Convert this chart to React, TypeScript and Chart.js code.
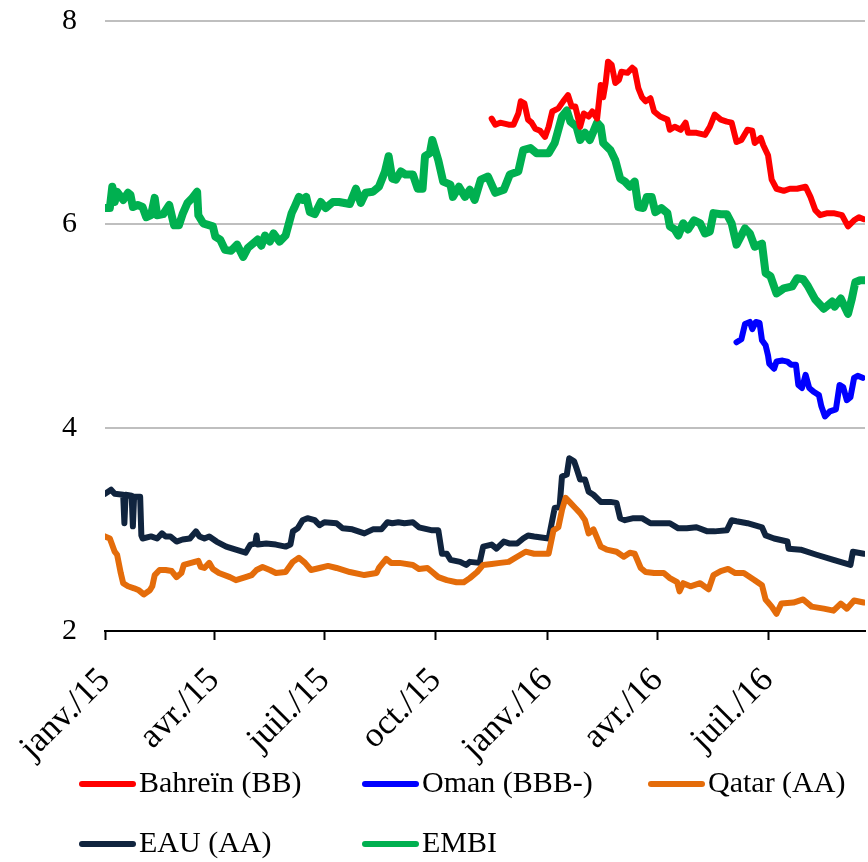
import React, { useEffect, useRef } from "react";
import { Chart, registerables } from "chart.js";

Chart.register(...registerables);

// Days counted from 1 Jan 2015
const tickDays = [0, 90, 181, 273, 365, 456, 547];
const tickLabels = ["janv./15", "avr./15", "juil./15", "oct./15", "janv./16", "avr./16", "juil./16"];
const yTicks = [2, 4, 6, 8];
const xMaxDay = 627;

const seriesNames = ["Bahreïn (BB)", "Oman (BBB-)", "Qatar (AA)", "EAU (AA)", "EMBI"];
const seriesColors = ["#ff0000", "#0000ff", "#e46c0a", "#10243e", "#00b050"];
const seriesWidths = [6, 6, 6, 6, 8];

const bahrein: [number, number][] = [
  [319, 7.04], [322, 6.98], [326, 7.0], [333, 6.98], [337, 6.98], [341, 7.09], [343, 7.21], [346, 7.19],
  [349, 7.03], [352, 7.0], [355, 6.94], [359, 6.92], [363, 6.86], [366, 6.96], [369, 7.11], [374, 7.14],
  [378, 7.21], [382, 7.27], [385, 7.16], [388, 7.16], [392, 6.96], [395, 7.09], [399, 7.06], [402, 7.11],
  [406, 7.04], [409, 7.37], [411, 7.25], [413, 7.39], [415, 7.6], [418, 7.57], [421, 7.39], [424, 7.42],
  [426, 7.5], [431, 7.49], [435, 7.54], [437, 7.52], [440, 7.34], [443, 7.25], [446, 7.21], [450, 7.24],
  [453, 7.11], [458, 7.06], [464, 7.03], [466, 6.93], [470, 6.96], [475, 6.93], [479, 7.0], [481, 6.9],
  [488, 6.9], [495, 6.88], [499, 6.96], [503, 7.08], [508, 7.03], [513, 7.01], [517, 7.0], [521, 6.81],
  [525, 6.83], [530, 6.93], [534, 6.92], [536, 6.8], [541, 6.85], [543, 6.78], [547, 6.68], [550, 6.44],
  [554, 6.35], [560, 6.33], [565, 6.35], [571, 6.35], [578, 6.37], [582, 6.27], [586, 6.14], [590, 6.09],
  [596, 6.11], [601, 6.11], [608, 6.09], [613, 5.98], [618, 6.04], [622, 6.07], [626, 6.05],
];

const oman: [number, number][] = [
  [521, 4.84], [525, 4.87], [528, 5.02], [532, 5.04], [534, 4.97], [537, 5.04], [540, 5.03], [542, 4.86],
  [545, 4.81], [547, 4.71], [548, 4.63], [552, 4.58], [554, 4.65], [559, 4.66], [563, 4.65], [566, 4.62],
  [570, 4.62], [572, 4.42], [575, 4.39], [578, 4.52], [581, 4.39], [585, 4.35], [589, 4.32], [591, 4.21],
  [594, 4.11], [598, 4.16], [603, 4.18], [606, 4.42], [609, 4.4], [612, 4.27], [615, 4.3], [618, 4.49],
  [621, 4.51], [625, 4.49],
];

const qatar: [number, number][] = [
  [0, 2.93], [4, 2.91], [8, 2.78], [10, 2.75], [13, 2.57], [15, 2.47], [19, 2.44], [24, 2.42], [28, 2.4],
  [32, 2.36], [37, 2.4], [39, 2.44], [41, 2.55], [45, 2.6], [50, 2.6], [55, 2.59], [59, 2.53], [63, 2.57],
  [65, 2.65], [71, 2.67], [77, 2.69], [79, 2.63], [82, 2.62], [86, 2.67], [89, 2.61], [94, 2.57], [103, 2.53],
  [108, 2.5], [116, 2.53], [121, 2.55], [125, 2.6], [130, 2.63], [136, 2.6], [141, 2.57], [149, 2.58],
  [155, 2.68], [160, 2.72], [165, 2.67], [170, 2.6], [177, 2.62], [184, 2.64], [191, 2.62], [202, 2.58],
  [214, 2.55], [224, 2.57], [226, 2.62], [232, 2.71], [236, 2.67], [243, 2.67], [254, 2.65], [259, 2.61],
  [266, 2.62], [270, 2.58], [275, 2.53], [282, 2.5], [290, 2.48], [296, 2.48], [301, 2.52], [307, 2.58],
  [312, 2.65], [319, 2.66], [326, 2.67], [333, 2.68], [340, 2.73], [347, 2.78], [354, 2.76], [366, 2.76],
  [370, 2.99], [374, 3.02], [377, 3.19], [380, 3.31], [384, 3.26], [388, 3.21], [392, 3.16], [396, 3.09],
  [399, 2.96], [403, 3.0], [409, 2.83], [414, 2.8], [422, 2.78], [428, 2.73], [433, 2.77], [437, 2.76],
  [442, 2.62], [446, 2.58], [453, 2.57], [461, 2.57], [466, 2.52], [472, 2.48], [474, 2.39], [477, 2.47],
  [483, 2.44], [491, 2.47], [498, 2.41], [502, 2.55], [508, 2.59], [514, 2.61], [520, 2.57], [527, 2.57],
  [536, 2.5], [542, 2.45], [545, 2.31], [550, 2.24], [554, 2.17], [558, 2.27], [568, 2.28], [576, 2.31],
  [583, 2.24], [593, 2.22], [601, 2.2], [607, 2.27], [612, 2.22], [618, 2.3], [626, 2.28],
];

const eau: [number, number][] = [
  [0, 3.35], [5, 3.39], [8, 3.35], [15, 3.34], [16, 3.06], [17, 3.34], [22, 3.33], [23, 3.03], [24, 3.32],
  [29, 3.32], [30, 2.94], [31, 2.91], [38, 2.93], [43, 2.91], [47, 2.96], [50, 2.93], [54, 2.93], [59, 2.88],
  [64, 2.9], [70, 2.91], [75, 2.98], [78, 2.93], [82, 2.91], [86, 2.93], [92, 2.88], [100, 2.83], [108, 2.8],
  [116, 2.77], [120, 2.85], [124, 2.86], [125, 2.94], [126, 2.85], [133, 2.86], [141, 2.85], [149, 2.83],
  [153, 2.85], [155, 2.98], [159, 3.01], [163, 3.09], [167, 3.11], [173, 3.09], [177, 3.04], [181, 3.07],
  [191, 3.06], [196, 3.01], [204, 3.0], [214, 2.96], [221, 3.0], [228, 3.0], [233, 3.07], [237, 3.06],
  [242, 3.07], [247, 3.06], [254, 3.07], [259, 3.02], [270, 2.99], [275, 2.99], [278, 2.76], [282, 2.76],
  [285, 2.7], [293, 2.68], [298, 2.65], [301, 2.68], [309, 2.67], [312, 2.83], [319, 2.85], [323, 2.81],
  [329, 2.88], [334, 2.86], [340, 2.86], [345, 2.91], [349, 2.94], [354, 2.93], [366, 2.91], [369, 3.09],
  [371, 3.21], [375, 3.22], [377, 3.52], [381, 3.54], [383, 3.7], [387, 3.67], [389, 3.6], [392, 3.49],
  [396, 3.49], [399, 3.37], [403, 3.34], [409, 3.27], [417, 3.27], [422, 3.26], [425, 3.11], [429, 3.09],
  [436, 3.11], [443, 3.11], [450, 3.06], [458, 3.06], [466, 3.06], [473, 3.01], [480, 3.01], [488, 3.02],
  [497, 2.98], [503, 2.98], [513, 2.99], [517, 3.09], [521, 3.08], [530, 3.06], [542, 3.02], [545, 2.94],
  [552, 2.91], [563, 2.88], [564, 2.81], [574, 2.8], [587, 2.75], [601, 2.7], [615, 2.65], [617, 2.78],
  [626, 2.76],
];

const embi: [number, number][] = [
  [0, 6.16], [4, 6.16], [6, 6.37], [8, 6.22], [10, 6.32], [15, 6.24], [19, 6.31], [21, 6.29], [23, 6.17],
  [27, 6.19], [31, 6.17], [34, 6.07], [38, 6.09], [41, 6.26], [43, 6.09], [48, 6.1], [53, 6.19], [57, 5.99],
  [61, 5.99], [64, 6.1], [68, 6.21], [72, 6.26], [76, 6.32], [77, 6.09], [81, 6.01], [89, 5.98], [91, 5.88],
  [95, 5.85], [99, 5.75], [104, 5.74], [109, 5.8], [114, 5.68], [118, 5.77], [126, 5.85], [129, 5.79],
  [132, 5.89], [136, 5.83], [139, 5.91], [144, 5.83], [149, 5.89], [154, 6.11], [156, 6.16], [160, 6.27],
  [163, 6.24], [166, 6.27], [169, 6.12], [173, 6.1], [178, 6.22], [182, 6.16], [188, 6.22], [193, 6.22],
  [202, 6.2], [207, 6.35], [211, 6.21], [215, 6.31], [221, 6.32], [226, 6.37], [231, 6.52], [234, 6.67],
  [237, 6.45], [240, 6.44], [244, 6.52], [248, 6.49], [254, 6.49], [258, 6.35], [262, 6.35], [264, 6.67],
  [268, 6.7], [270, 6.83], [275, 6.63], [279, 6.42], [285, 6.39], [287, 6.27], [292, 6.37], [297, 6.27],
  [301, 6.34], [305, 6.24], [310, 6.44], [316, 6.47], [322, 6.31], [329, 6.34], [334, 6.49], [341, 6.52],
  [345, 6.73], [351, 6.75], [356, 6.7], [366, 6.7], [371, 6.8], [377, 7.06], [381, 7.12], [384, 7.01],
  [389, 6.96], [392, 6.83], [396, 6.9], [400, 6.83], [406, 7.0], [409, 6.96], [411, 6.8], [417, 6.73],
  [421, 6.63], [425, 6.45], [429, 6.42], [433, 6.37], [437, 6.42], [440, 6.17], [444, 6.16], [447, 6.27],
  [451, 6.27], [454, 6.12], [459, 6.16], [464, 6.11], [466, 5.98], [470, 5.95], [473, 5.89], [477, 6.01],
  [481, 5.95], [486, 6.04], [491, 6.01], [495, 5.91], [499, 5.93], [502, 6.11], [508, 6.1], [513, 6.1],
  [517, 6.01], [521, 5.8], [528, 5.96], [532, 5.91], [536, 5.78], [542, 5.81], [545, 5.52], [549, 5.49],
  [554, 5.32], [560, 5.37], [567, 5.39], [571, 5.47], [576, 5.46], [580, 5.39], [586, 5.26], [593, 5.17],
  [600, 5.24], [602, 5.19], [607, 5.27], [611, 5.17], [613, 5.12], [616, 5.26], [619, 5.43], [623, 5.45],
  [627, 5.45],
];

const allSeries = [bahrein, oman, qatar, eau, embi];

const FONT = '"Liberation Serif", "Times New Roman", serif';

const gridLegend = {
  id: "gridLegend",
  afterDraw(chart: any) {
    const ctx = chart.ctx as CanvasRenderingContext2D;
    const cols = [79, 362, 648];
    const rows = [784, 844];
    chart.data.datasets.forEach((ds: any, i: number) => {
      const x = cols[i % 3];
      const y = rows[Math.floor(i / 3)];
      ctx.save();
      ctx.strokeStyle = ds.borderColor;
      ctx.lineWidth = 6;
      ctx.lineCap = "round";
      ctx.beginPath();
      ctx.moveTo(x + 3, y);
      ctx.lineTo(x + 54, y);
      ctx.stroke();
      ctx.fillStyle = "#000";
      ctx.font = "30px " + FONT;
      ctx.textBaseline = "alphabetic";
      ctx.textAlign = "left";
      ctx.fillText(ds.label, x + 60, y + 8);
      ctx.restore();
    });
  },
};

export default function App() {
  const ref = useRef<HTMLCanvasElement | null>(null);
  useEffect(() => {
    if (!ref.current) return;
    const chart = new Chart(ref.current, {
      type: "line",
      data: {
        datasets: allSeries.map((s, i) => ({
          label: seriesNames[i],
          data: s.map(([d, v]) => ({ x: d, y: v })),
          borderColor: seriesColors[i],
          backgroundColor: seriesColors[i],
          borderWidth: seriesWidths[i],
          pointRadius: 0,
          tension: 0,
          fill: false,
          borderJoinStyle: "round",
          borderCapStyle: "round",
        })),
      },
      options: {
        responsive: false,
        animation: false,
        devicePixelRatio: 1,
        layout: { padding: { top: 21, right: 3, left: 0, bottom: 0 } },
        plugins: { legend: { display: false }, tooltip: { enabled: false } },
        scales: {
          x: {
            type: "linear",
            min: 0,
            max: xMaxDay,
            afterBuildTicks: (s: any) => {
              s.ticks = tickDays.map((v) => ({ value: v }));
            },
            afterFit: (s: any) => {
              s.height = 231;
              s.paddingRight = 0;
            },
            ticks: {
              autoSkip: false,
              minRotation: 45,
              maxRotation: 45,
              padding: 20,
              color: "#000",
              font: { family: FONT, size: 35 },
              callback: (_v: any, i: number) => tickLabels[i],
            },
            grid: {
              drawOnChartArea: false,
              drawTicks: true,
              tickLength: 9,
              tickWidth: 2,
              tickColor: "#000",
            },
            border: { display: true, color: "#000", width: 2 },
          },
          y: {
            min: 2,
            max: 8,
            afterBuildTicks: (s: any) => {
              s.ticks = yTicks.map((v) => ({ value: v }));
            },
            afterFit: (s: any) => {
              s.width = 105;
              s.paddingTop = 0;
              s.paddingBottom = 0;
            },
            ticks: {
              padding: 28,
              color: "#000",
              font: { family: FONT, size: 30 },
            },
            grid: { color: "#bfbfbf", lineWidth: 2, drawTicks: false },
            border: { display: false },
          },
        },
      },
      plugins: [gridLegend],
    } as any);
    return () => chart.destroy();
  }, []);

  return (
    <div style={{ position: "absolute", left: 0, top: 0, width: 868, height: 862, background: "#fff" }}>
      <canvas ref={ref} width={868} height={862} />
    </div>
  );
}
